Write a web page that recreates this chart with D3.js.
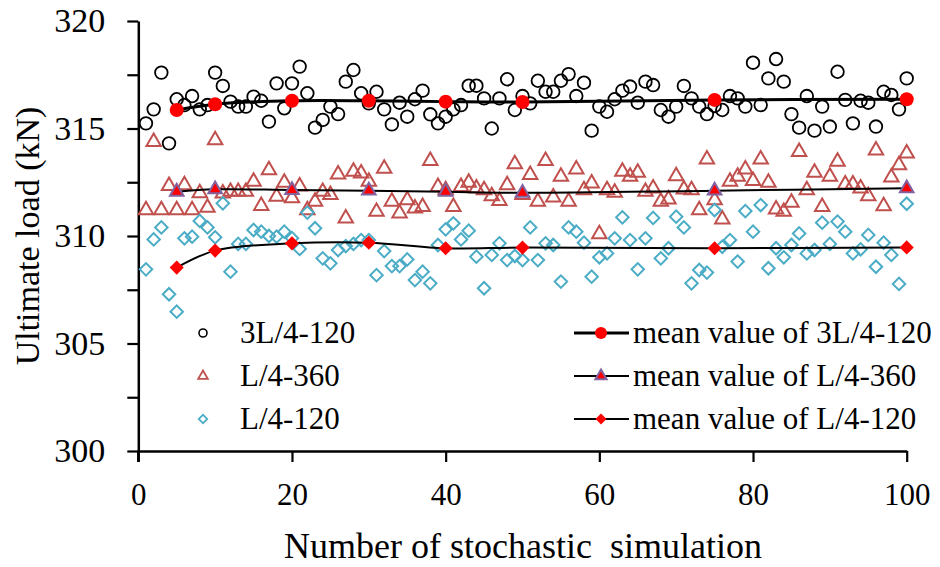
<!DOCTYPE html>
<html><head><meta charset="utf-8">
<script src="https://cdn.jsdelivr.net/npm/d3@7"></script>
<style>
html,body{margin:0;padding:0;background:#fff;}
svg{display:block;}
</style></head>
<body><svg id="c" width="940" height="567"></svg>
<script>
const runs = d3.range(1, 101);
const circ3L120 = [315.24,315.89,317.6,314.31,316.36,316.09,316.51,315.89,316.09,317.6,
316.98,316.25,316.02,316.02,316.48,316.29,315.32,317.1,315.94,317.1,
317.88,316.64,315.04,315.4,316.02,315.67,317.18,317.72,316.64,316.17,
316.71,315.89,315.19,316.2,315.55,316.36,316.76,315.66,315.24,315.55,
315.89,316.09,316.99,316.99,316.4,315.0,316.4,317.29,315.86,316.51,
316.17,317.22,316.71,316.71,317.22,317.53,316.51,317.13,314.9,316.02,
315.78,316.36,316.76,316.95,316.2,317.18,317.02,315.86,315.55,316.02,
316.98,316.4,316.02,315.67,316.05,315.86,316.51,316.4,316.02,318.06,
316.09,317.33,318.23,317.18,315.67,315.04,316.51,314.9,316.02,315.09,
317.64,316.33,315.24,316.29,316.2,315.09,316.71,316.56,315.89,317.33];
const triL4360 = [311.21,314.38,311.21,312.33,311.21,312.37,311.21,312.0,311.32,314.46,
311.98,312.06,312.06,312.06,312.53,311.4,313.07,311.83,312.48,311.76,
312.31,311.21,311.6,312.06,311.91,312.87,310.82,313.0,312.91,312.53,
311.13,313.14,311.6,311.05,311.67,311.29,311.36,313.5,312.29,312.14,
311.36,312.29,312.48,312.22,312.14,311.86,311.63,312.37,313.35,311.91,
312.84,311.6,313.5,311.8,312.76,311.6,313.1,312.14,312.45,310.09,
312.14,312.02,313.0,312.76,312.95,312.06,312.22,311.6,311.71,312.79,
312.17,312.14,311.21,313.57,311.67,310.78,312.53,312.76,313.1,312.57,
313.57,312.48,311.24,311.13,311.55,313.92,312.14,312.95,311.36,312.76,
313.46,312.4,312.4,312.22,311.86,313.99,311.39,312.73,313.3,313.84];
const diaL4120 = [308.45,309.84,310.4,307.29,306.48,309.89,309.97,310.7,310.4,309.94,
311.52,308.34,309.63,309.63,310.28,310.2,310.0,309.97,310.2,309.9,
309.4,311.09,310.36,308.96,308.73,309.35,309.53,309.63,309.81,309.81,
308.18,309.3,308.6,308.6,308.91,307.95,308.34,307.8,309.58,310.31,
310.59,309.84,310.25,309.04,307.57,309.12,309.66,308.88,309.07,308.88,
310.4,308.88,309.66,309.58,307.88,310.4,310.2,309.69,308.11,309.01,
309.19,309.89,310.87,309.81,308.45,309.89,310.84,308.96,309.43,310.9,
310.4,307.8,308.42,308.3,311.21,309.5,309.81,308.81,311.16,310.2,
311.44,308.5,309.43,309.01,309.58,310.12,309.19,309.35,310.62,309.63,
310.67,310.2,309.19,309.38,310.05,308.57,309.69,309.12,307.77,311.5];
const meanRuns = [5,10,20,30,40,50,75,100];
const mean3L120 = [315.86,316.13,316.29,316.29,316.25,316.23,316.33,316.36];
const meanL4360 = [312.06,312.17,312.14,312.11,312.06,312.01,312.11,312.22];
const meanL4120 = [308.53,309.32,309.66,309.69,309.43,309.46,309.43,309.47];
const xTicks = [0,20,40,60,80,100];
const yTicks = [300,302.5,305,307.5,310,312.5,315,317.5,320];
const xTitle = "Number of stochastic\u00a0 simulation";
const yTitle = "Ultimate load (kN)";
const legendLabels = ["3L/4-120","L/4-360","L/4-120"];
const meanLabels = ["mean value of 3L/4-120","mean value of L/4-360","mean value of L/4-120"];

const FONT = "Liberation Serif";
const svg = d3.select("#c");
const x = d3.scaleLinear().domain([0,100]).range([138.3,906.7]);
const y = d3.scaleLinear().domain([300,320]).range([451,21]);

const cRed = "#ff0000", cTri = "#c0504d", cDia = "#4bacc6", cPur = "#8064a2";

// axes
const gx = svg.append("g").attr("transform","translate(0,451)")
  .call(d3.axisBottom(x).tickValues(xTicks).tickSize(11).tickPadding(21).tickSizeOuter(0));
gx.selectAll("text").attr("font-size",31).attr("fill","#000").style("font-family",FONT);
const gy = svg.append("g").attr("transform","translate(138.3,0)")
  .call(d3.axisLeft(y).tickValues(yTicks).tickSize(11).tickPadding(22).tickSizeOuter(0)
    .tickFormat(d => d % 5 === 0 ? d3.format("d")(d) : ""));
gy.selectAll("text").attr("font-size",34).attr("fill","#000").style("font-family",FONT);
svg.selectAll(".domain").attr("stroke","#000").attr("stroke-width",2.5);
svg.selectAll(".tick line").attr("stroke","#000").attr("stroke-width",2.2);
svg.append("line").attr("x1",138.3).attr("x2",138.3).attr("y1",451).attr("y2",462).attr("stroke","#000").attr("stroke-width",2.5);

// titles
svg.append("text").attr("x",523).attr("y",558).attr("text-anchor","middle")
  .attr("font-size",36).style("font-family",FONT).text(xTitle);
svg.append("text").attr("transform","translate(39,236) rotate(-90)").attr("text-anchor","middle")
  .attr("font-size",34).style("font-family",FONT).text(yTitle);

// scatter
const triSym = d3.symbol().type(d3.symbolTriangle).size(90);
const diaSym = d3.symbol().type(d3.symbolSquare).size(78);

svg.append("g").selectAll("circle").data(runs).join("circle")
  .attr("cx", d => x(d)).attr("cy", (d,i) => y(circ3L120[i])).attr("r",6.3)
  .attr("fill","none").attr("stroke","#000").attr("stroke-width",1.8);
svg.append("g").selectAll("path").data(runs).join("path")
  .attr("d", triSym).attr("transform",(d,i) => `translate(${x(d)},${y(triL4360[i])})`)
  .attr("fill","none").attr("stroke",cTri).attr("stroke-width",2);
svg.append("g").selectAll("path").data(runs).join("path")
  .attr("d", diaSym).attr("transform",(d,i) => `translate(${x(d)},${y(diaL4120[i])}) rotate(45)`)
  .attr("fill","none").attr("stroke",cDia).attr("stroke-width",2);

// mean lines
const line = arr => d3.line().x(d => x(d)).y((d,i) => y(arr[i])).curve(d3.curveCatmullRom.alpha(0.5))(meanRuns);
svg.append("path").attr("d",line(mean3L120)).attr("fill","none").attr("stroke","#000").attr("stroke-width",3);
svg.append("path").attr("d",line(meanL4360)).attr("fill","none").attr("stroke","#000").attr("stroke-width",2);
svg.append("path").attr("d",line(meanL4120)).attr("fill","none").attr("stroke","#000").attr("stroke-width",2);

svg.append("g").selectAll("circle").data(meanRuns).join("circle")
  .attr("cx", d => x(d)).attr("cy",(d,i) => y(mean3L120[i])).attr("r",7).attr("fill",cRed);
const mTri = d3.symbol().type(d3.symbolTriangle).size(80);
svg.append("g").selectAll("path").data(meanRuns).join("path")
  .attr("d", mTri).attr("transform",(d,i) => `translate(${x(d)},${y(meanL4360[i])})`)
  .attr("fill",cRed).attr("stroke",cPur).attr("stroke-width",2);
const mDia = d3.symbol().type(d3.symbolSquare).size(100);
svg.append("g").selectAll("path").data(meanRuns).join("path")
  .attr("d", mDia).attr("transform",(d,i) => `translate(${x(d)},${y(meanL4120[i])}) rotate(45)`)
  .attr("fill",cRed);

// legend
const rows = [333, 376, 419];
const lg = svg.append("g").attr("font-size",31).style("font-family",FONT);
lg.append("circle").attr("cx",203).attr("cy",rows[0]).attr("r",4).attr("fill","none").attr("stroke","#000").attr("stroke-width",1.6);
lg.append("path").attr("d",d3.symbol().type(d3.symbolTriangle).size(40)()).attr("transform",`translate(203,${rows[1]})`)
  .attr("fill","none").attr("stroke",cTri).attr("stroke-width",1.8);
lg.append("path").attr("d",d3.symbol().type(d3.symbolSquare).size(36)()).attr("transform",`translate(203,${rows[2]}) rotate(45)`)
  .attr("fill","none").attr("stroke",cDia).attr("stroke-width",1.8);
legendLabels.forEach((t,i) => lg.append("text").attr("x",240).attr("y",rows[i]+10).style("font-family",FONT).text(t));
[3,2,2].forEach((w,i) => lg.append("line").attr("x1",574).attr("x2",629).attr("y1",rows[i]).attr("y2",rows[i]).attr("stroke","#000").attr("stroke-width",w));
lg.append("circle").attr("cx",601).attr("cy",rows[0]).attr("r",6).attr("fill",cRed);
lg.append("path").attr("d",d3.symbol().type(d3.symbolTriangle).size(55)()).attr("transform",`translate(601,${rows[1]})`)
  .attr("fill",cRed).attr("stroke",cPur).attr("stroke-width",2);
lg.append("path").attr("d",d3.symbol().type(d3.symbolSquare).size(60)()).attr("transform",`translate(601,${rows[2]}) rotate(45)`)
  .attr("fill",cRed);
meanLabels.forEach((t,i) => lg.append("text").attr("x",633).attr("y",rows[i]+10).style("font-family",FONT).text(t));
</script></body></html>
